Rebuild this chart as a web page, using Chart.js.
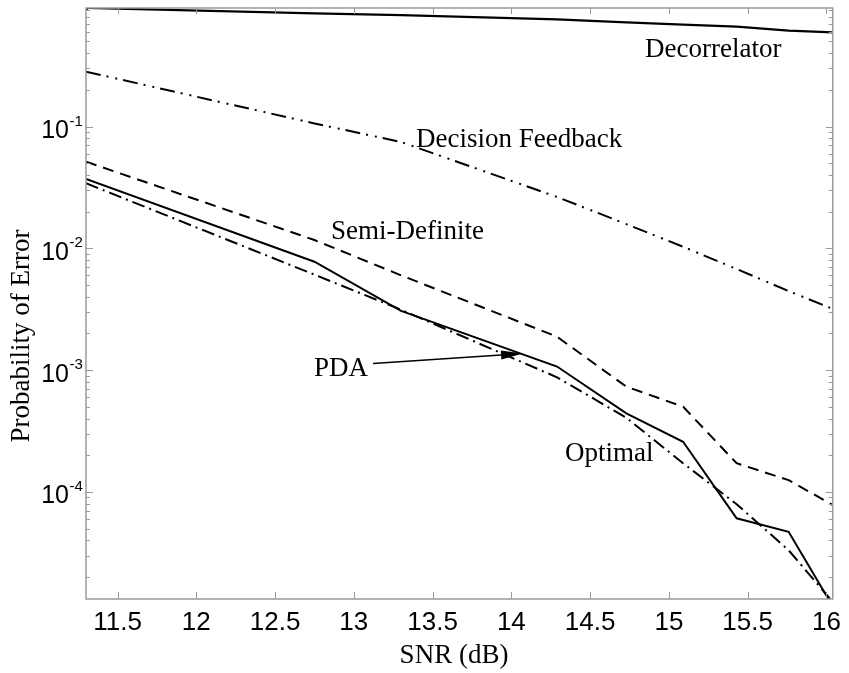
<!DOCTYPE html>
<html><head><meta charset="utf-8">
<script src="https://cdn.jsdelivr.net/npm/chart.js@4.4.0/dist/chart.umd.min.js"></script>
<style>html,body{margin:0;padding:0;background:#fff;}canvas{display:block;}</style>
</head><body>
<canvas id="c" width="849" height="673"></canvas>
<script>
// ---- data ----
const snr = [11.3, 12.75, 13.3, 14.29, 14.73, 15.09, 15.43, 15.76, 16.04];
const decorrelator = [0.94, 0.849, 0.82, 0.757, 0.715, 0.686, 0.66, 0.612, 0.593];
const decisionFeedback = [0.282, 0.106, 0.0746, 0.0264, 0.0158, 0.0103, 0.00676, 0.00446, 0.00318];
const semiDefinite = [0.0514, 0.0117, 0.0060, 0.00188, 7.31e-4, 5.01e-4, 1.72e-4, 1.25e-4, 7.8e-5];
const pda = [0.0371, 0.00776, 0.00306, 0.00107, 4.42e-4, 2.58e-4, 6.07e-5, 4.71e-5, 1.15e-5];
const optimal = [0.0342, 0.00608, 0.00313, 8.73e-4, 4.06e-4, 1.72e-4, 7.93e-5, 3.32e-5, 1.25e-5];
const xTicks = [11.5, 12, 12.5, 13, 13.5, 14, 14.5, 15, 15.5, 16];
const yExponents = [-1, -2, -3, -4];
const xRange = [11.3, 16.04];
const yRange = [1.321e-5, 0.9395];

const pts = arr => snr.map((x, i) => ({x, y: arr[i]}));
const AXIS = '#9a9a9a';
const SERIF = '"Liberation Serif", "Times New Roman", serif';
const SANS = '"Liberation Sans", Arial, sans-serif';

const framePlugin = {
  id: 'frame',
  afterDatasetsDraw(chart) {
    const {ctx, chartArea: a, scales: {x, y}} = chart;
    ctx.save();
    ctx.strokeStyle = AXIS;
    ctx.lineWidth = 1.5;
    ctx.strokeRect(a.left, a.top, a.right - a.left, a.bottom - a.top);
    ctx.lineWidth = 1;
    ctx.beginPath();
    xTicks.forEach(v => {
      const px = Math.round(x.getPixelForValue(v)) + 0.5;
      ctx.moveTo(px, a.bottom); ctx.lineTo(px, a.bottom - 7);
      ctx.moveTo(px, a.top); ctx.lineTo(px, a.top + 6);
    });
    for (let e = -6; e <= 0; e++) {
      for (let k = 1; k <= 9; k++) {
        const v = k * Math.pow(10, e);
        if (v < yRange[0] || v > yRange[1]) continue;
        const py = Math.round(y.getPixelForValue(v)) + 0.5;
        const len = k === 1 ? 7 : 4;
        ctx.moveTo(a.left, py); ctx.lineTo(a.left + len, py);
        ctx.moveTo(a.right, py); ctx.lineTo(a.right - len, py);
      }
    }
    ctx.stroke();
    ctx.restore();
  },
  afterDraw(chart) {
    const {ctx, chartArea: a, scales: {y}} = chart;
    ctx.save();
    ctx.fillStyle = '#000';
    // y tick labels 10^e
    yExponents.forEach(e => {
      const py = y.getPixelForValue(Math.pow(10, e));
      ctx.font = '25px ' + SANS;
      ctx.textAlign = 'right';
      ctx.textBaseline = 'alphabetic';
      ctx.fillText('10', 69, py + 11.5);
      ctx.font = '15px ' + SANS;
      ctx.textAlign = 'left';
      ctx.fillText(String(e), 69.5, py - 1);
    });
    // axis titles
    ctx.font = '27px ' + SERIF;
    ctx.textAlign = 'center';
    ctx.textBaseline = 'alphabetic';
    ctx.fillText('SNR (dB)', 454, 663);
    ctx.save();
    ctx.translate(29, 336);
    ctx.rotate(-Math.PI / 2);
    ctx.fillText('Probability of Error', 0, 0);
    ctx.restore();
    // curve labels
    ctx.textAlign = 'left';
    ctx.fillText('Decorrelator', 645, 57);
    ctx.fillText('Decision Feedback', 416, 147);
    ctx.fillText('Semi-Definite', 331, 239);
    ctx.fillText('PDA', 314, 376);
    ctx.fillText('Optimal', 565, 461);
    // arrow from PDA label to curve
    const x0 = 373, y0 = 363.5, x1 = 523, y1 = 353.5;
    const ang = Math.atan2(y1 - y0, x1 - x0);
    const hl = 22, hw = 4.5;
    const bx = x1 - hl * Math.cos(ang), by = y1 - hl * Math.sin(ang);
    ctx.strokeStyle = '#000';
    ctx.lineWidth = 1.6;
    ctx.beginPath(); ctx.moveTo(x0, y0); ctx.lineTo(bx, by); ctx.stroke();
    ctx.beginPath();
    ctx.moveTo(x1, y1);
    ctx.lineTo(bx - hw * Math.sin(ang), by + hw * Math.cos(ang));
    ctx.lineTo(bx + hw * Math.sin(ang), by - hw * Math.cos(ang));
    ctx.closePath(); ctx.fill();
    ctx.restore();
  }
};

const base = {borderColor: '#000', backgroundColor: '#000', borderWidth: 2, pointRadius: 0, fill: false, tension: 0};

new Chart(document.getElementById('c').getContext('2d'), {
  type: 'line',
  data: {
    datasets: [
      Object.assign({}, base, {label: 'Decorrelator', data: pts(decorrelator), borderWidth: 2.3,
        pointRadius: c => c.dataIndex === 0 ? 2.5 : 0, pointBorderWidth: 0}),
      Object.assign({}, base, {label: 'Decision Feedback', data: pts(decisionFeedback), borderDash: [15, 6, 2, 7, 2, 6]}),
      Object.assign({}, base, {label: 'Semi-Definite', data: pts(semiDefinite), borderDash: [11, 7]}),
      Object.assign({}, base, {label: 'PDA', data: pts(pda)}),
      Object.assign({}, base, {label: 'Optimal', data: pts(optimal), borderDash: [13, 5, 2, 5]})
    ]
  },
  options: {
    responsive: false,
    animation: false,
    devicePixelRatio: 1,
    layout: {padding: {left: 0, right: 12, top: 8, bottom: 0}},
    plugins: {legend: {display: false}, tooltip: {enabled: false}, title: {display: false}},
    scales: {
      x: {
        type: 'linear', min: xRange[0], max: xRange[1],
        afterBuildTicks: s => { s.ticks = xTicks.map(v => ({value: v})); },
        afterFit: s => { s.height = 74; },
        grid: {display: false, drawTicks: false},
        border: {display: false},
        ticks: {font: {family: SANS, size: 26}, color: '#000', padding: 8, maxRotation: 0, autoSkip: false,
          callback: v => String(v)}
      },
      y: {
        type: 'logarithmic', min: yRange[0], max: yRange[1],
        afterFit: s => { s.width = 86; },
        grid: {display: false, drawTicks: false},
        border: {display: false},
        ticks: {display: false}
      }
    }
  },
  plugins: [framePlugin]
});
</script>
</body></html>
